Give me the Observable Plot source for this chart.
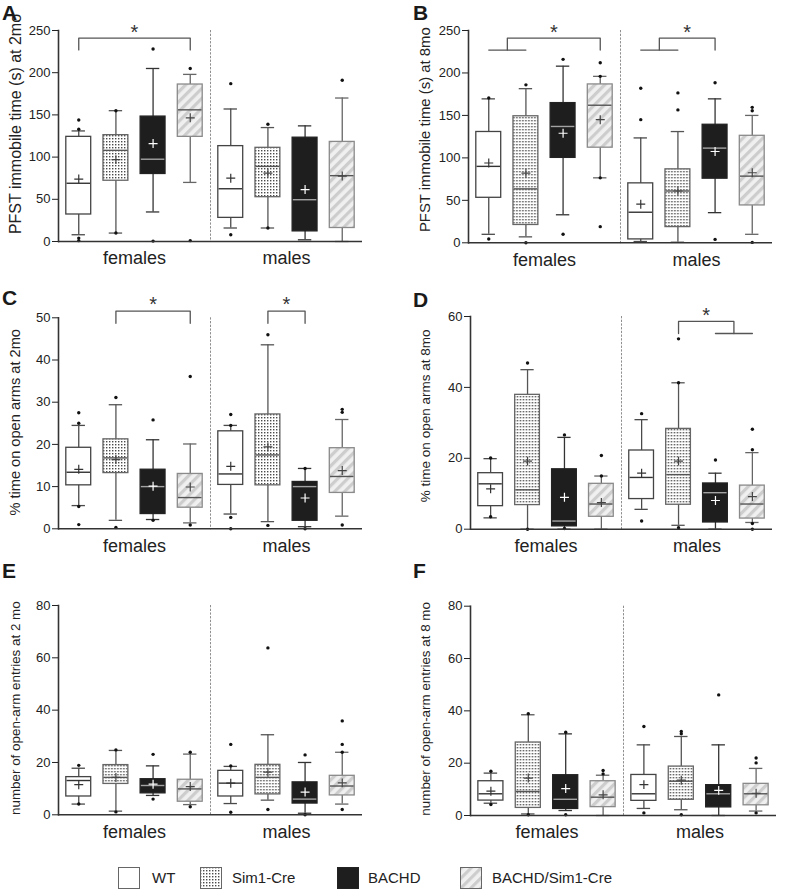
<!DOCTYPE html>
<html>
<head>
<meta charset="utf-8">
<script src="https://cdn.jsdelivr.net/npm/d3@7"></script>
<script src="https://cdn.jsdelivr.net/npm/@observablehq/plot@0.6"></script>
<style>
  html, body { margin: 0; padding: 0; background: #fff; }
  #root { position: relative; width: 787px; height: 890px; overflow: hidden; font-family: "Liberation Sans", Arial, sans-serif; color: #222; }
  .panel { position: absolute; }
  .letter { position: absolute; font-weight: bold; font-size: 21px; line-height: 21px; color: #1a1a1a; }
  .leg-sw { position: absolute; top: 867px; width: 22px; height: 22px; }
  .leg-tx { position: absolute; top: 869px; font-size: 15px; line-height: 18px; color: #222; white-space: nowrap; }
</style>
</head>
<body>
<svg width="0" height="0" style="position:absolute">
  <defs>
    <pattern id="stipple" width="3" height="3" patternUnits="userSpaceOnUse">
      <rect width="3" height="3" fill="#ffffff"/>
      <rect x="0" y="0" width="1.4" height="1.4" fill="#4a4a4a"/>
    </pattern>
    <pattern id="hatch" width="7" height="7" patternUnits="userSpaceOnUse" patternTransform="rotate(45)">
      <rect width="7" height="7" fill="#f0f0f0"/>
      <rect width="3.2" height="7" fill="#cdcdcd"/>
    </pattern>
  </defs>
</svg>
<div id="root"></div>
<script>
// ---------- categories ----------
const genotypes = ["WT", "Sim1-Cre", "BACHD", "BACHD/Sim1-Cre"];
const sexes = ["females", "males"];
// order of every series: females WT, Sim1-Cre, BACHD, BACHD/Sim1-Cre, males WT, Sim1-Cre, BACHD, BACHD/Sim1-Cre

// ---------- A: PFST immobile time at 2mo ----------
const aLabel = "PFST immobile time (s) at 2mo";
const aTicks = [0, 50, 100, 150, 200, 250];
const aLow  = [8, 10, 35, 70, 16, 16, 2, 0];
const aQ1   = [32, 72, 80, 124, 28, 52.5, 12, 16];
const aMed  = [69, 108, 97.5, 156, 62.5, 89, 49.5, 78];
const aQ3   = [124, 126, 148, 186, 113, 111, 123, 118];
const aHigh = [131, 155, 205, 198, 157, 135, 137, 170];
const aMean = [74, 97, 116, 146.5, 75, 81, 61.5, 77.5];
const aOut  = [[144, 133, 4, 1], [155, 10], [228, 0.5], [205, 1], [187, 8], [139, 16], [], [191]];
const aSig  = [{sex: "females", from: ["WT"], to: ["BACHD/Sim1-Cre"]}];
const aSigLevels = [227, 241];

// ---------- B: PFST immobile time at 8mo ----------
const bLabel = "PFST immobile time (s) at 8mo";
const bTicks = [0, 50, 100, 150, 200, 250];
const bLow  = [10, 7, 33, 76.5, 1.5, 0.7, 35.5, 10];
const bQ1   = [53, 21, 100, 112, 4, 18.5, 75.5, 44];
const bMed  = [90, 63.5, 137, 162, 36, 61, 111.5, 78.5];
const bQ3   = [130.5, 149, 164.5, 186.5, 70, 86.5, 139, 126];
const bHigh = [169.5, 181.5, 208, 196, 123.5, 131, 169.5, 150];
const bMean = [94, 82, 129, 145, 45.5, 61, 107.5, 82.5];
const bOut  = [[170.5, 4.5], [186, 0], [216, 10], [212, 196, 76.5, 19], [182, 145], [176.5, 156.5], [188.5, 4], [159.5, 155.5, 0.5]];
const bSig  = [
  {sex: "females", from: ["WT", "Sim1-Cre"], to: ["BACHD/Sim1-Cre"]},
  {sex: "males", from: ["WT", "Sim1-Cre"], to: ["BACHD"]}
];
const bSigLevels = [227, 241];

// ---------- C: % time on open arms at 2mo ----------
const cLabel = "% time on open arms at 2mo";
const cTicks = [0, 10, 20, 30, 40, 50];
const cLow  = [5.5, 2, 2.2, 1.4, 3.5, 1.7, 0.5, 3];
const cQ1   = [10.3, 13.2, 3.5, 5, 10.4, 10.3, 1.9, 8.5];
const cMed  = [13.4, 16.8, 10, 7.4, 13, 17.5, 10, 12.4];
const cQ3   = [19.2, 21.2, 14, 13, 23.1, 27.1, 11.1, 19.1];
const cHigh = [24.5, 29.4, 21.1, 20.1, 24.5, 43.6, 14.3, 25.9];
const cMean = [14.1, 16.4, 10.1, 9.9, 14.8, 19.4, 7.3, 13.8];
const cOut  = [[27.5, 25, 5.3, 1], [31.1, 0.3], [25.8, 2], [36.1, 0.9], [27.1, 24.5, 2.7, 0], [46, 0.8], [14.3, 0], [28.3, 27.6, 0.9]];
const cSig  = [
  {sex: "females", from: ["Sim1-Cre"], to: ["BACHD/Sim1-Cre"]},
  {sex: "males", from: ["Sim1-Cre"], to: ["BACHD"]}
];
const cSigLevels = [48.7, 51.6];

// ---------- D: % time on open arms at 8mo ----------
const dLabel = "% time on open arms at 8mo";
const dTicks = [0, 20, 40, 60];
const dLow  = [3.2, 0, 0, 0, 5.6, 1.1, 0, 1.9];
const dQ1   = [6.5, 6.8, 0.8, 3.5, 8.5, 6.9, 1.9, 3];
const dMed  = [12.8, 11.1, 2.3, 7.1, 14.6, 15.4, 10.3, 7.1];
const dQ3   = [15.8, 37.9, 16.9, 12.8, 22.2, 28.3, 12.9, 12.3];
const dHigh = [19.9, 45, 25.9, 15, 30.9, 41.3, 15.8, 21.6];
const dMean = [11.4, 19.2, 9, 7.5, 15.8, 19.2, 8.1, 9.2];
const dOut  = [[20.1, 3.5], [46.9, 0], [26.6, 0.2], [20.8, 15], [32.6, 2.3], [53.7, 41.3, 0.4], [19.5], [28.2, 22.4, 1.6, 0]];
const dSig  = [{sex: "males", from: ["Sim1-Cre"], to: ["BACHD", "BACHD/Sim1-Cre"]}];
const dSigLevels = [55.2, 58.6];

// ---------- E: open-arm entries at 2 mo ----------
const eLabel = "number of open-arm entries at 2 mo";
const eTicks = [0, 20, 40, 60, 80];
const eLow  = [4.1, 1.4, 7.4, 3.9, 4.3, 5.6, 0.6, 4.1];
const eQ1   = [7, 11.8, 8.2, 5, 7, 7.8, 4.3, 7.4];
const eMed  = [13.1, 14.3, 11.2, 9.9, 12.1, 14.3, 6, 11];
const eQ3   = [14.4, 19, 13.6, 13.4, 16.8, 19.1, 12.4, 14.9];
const eHigh = [17.8, 24.6, 18.7, 23.2, 18.5, 30.6, 20, 23.9];
const eMean = [11.5, 14.3, 11.7, 10.8, 12.1, 16.3, 8.7, 12.2];
const eOut  = [[18.9, 4.1], [24.8, 1.1], [23.1, 6], [23.9, 3.1], [26.9, 18.7, 1], [63.8, 2], [22.9, 0], [35.9, 26.9, 23.9, 2]];
const eSig  = [];
const eSigLevels = [0, 0];

// ---------- F: open-arm entries at 8 mo ----------
const fLabel = "number of open-arm entries at 8 mo";
const fTicks = [0, 20, 40, 60, 80];
const fLow  = [4.7, 0.6, 1.9, 0, 2.7, 2.2, 0, 1.7];
const fQ1   = [5.7, 2.9, 2.5, 3.2, 5.6, 6, 3.1, 3.9];
const fMed  = [8.3, 9.2, 6.2, 7, 8.3, 13.1, 8.3, 8.3];
const fQ3   = [13.1, 27.9, 15.4, 13.1, 15.5, 18.7, 11.6, 12.1];
const fHigh = [16.2, 38.5, 31.2, 15.4, 27, 30.2, 27, 18];
const fMean = [9.3, 14.3, 10.3, 7.9, 11.8, 13.5, 9.6, 8.5];
const fOut  = [[16.9, 4.2], [38.9, 0.3], [31.8, 0.3], [17.2, 15.9], [34, 1], [32.1, 31.2, 0.3], [46.1], [22, 20.1, 1]];
const fSig  = [];
const fSigLevels = [0, 0];

// ---------- styles ----------
const boxFill       = ["#ffffff", "url(#stipple)", "#1e1e1e", "url(#hatch)"];
const boxStroke     = ["#444444", "#666666", "#222222", "#8a8a8a"];
const medianStroke  = ["#333333", "#555555", "#a3a3a3", "#555555"];
const meanStroke    = ["#333333", "#444444", "#ffffff", "#444444"];
const whiskerStroke = ["#4a4a4a", "#555555", "#333333", "#666666"];
const boxHalf = 0.335;   // half box width in genotype-slot units
const capHalf = 0.18;
const tickFont = '"Liberation Sans Narrow", "Liberation Sans", Arial, sans-serif';
const textFont = '"Liberation Sans", Arial, sans-serif';

function boxRows(lo, q1, med, q3, hi, mean) {
  return lo.map((_, k) => ({
    sex: sexes[Math.floor(k / 4)], g: k % 4, genotype: genotypes[k % 4],
    lo: lo[k], q1: q1[k], med: med[k], q3: q3[k], hi: hi[k], mean: mean[k]
  }));
}
function outlierRows(out) {
  return out.flatMap((vals, k) => vals.map(v => ({sex: sexes[Math.floor(k / 4)], g: k % 4, v})));
}
function bracketParts(sig, levels) {
  const [low, high] = levels;
  const pts = [], stars = [];
  sig.forEach((s, n) => {
    const fi = s.from.map(d => genotypes.indexOf(d));
    const ti = s.to.map(d => genotypes.indexOf(d));
    const fx = d3.mean(fi), tx = d3.mean(ti);
    const id = "b" + n;
    [[fx, low], [fx, high], [tx, high], [tx, low]].forEach(([x, y]) => pts.push({id, sex: s.sex, x, y}));
    if (fi.length > 1) [[d3.min(fi), low], [d3.max(fi), low]].forEach(([x, y]) => pts.push({id: id + "f", sex: s.sex, x, y}));
    if (ti.length > 1) [[d3.min(ti), low], [d3.max(ti), low]].forEach(([x, y]) => pts.push({id: id + "t", sex: s.sex, x, y}));
    stars.push({sex: s.sex, x: (fx + tx) / 2, y: high});
  });
  return {pts, stars};
}

function panel(cfg) {
  const rows = boxRows(cfg.low, cfg.q1, cfg.med, cfg.q3, cfg.high, cfg.mean);
  const outs = outlierRows(cfg.out);
  const br = bracketParts(cfg.sig, cfg.sigLevels);
  const ymax = cfg.ticks[cfg.ticks.length - 1];
  return Plot.plot({
    width: cfg.w, height: 285,
    marginLeft: cfg.mL, marginRight: cfg.mR, marginTop: cfg.mT, marginBottom: cfg.mB,
    style: {fontFamily: tickFont, fontSize: "13px", color: "#222", background: "transparent", overflow: "visible"},
    fx: {domain: sexes, padding: 0, axis: null},
    x: {type: "linear", domain: [-0.545, 3.545], axis: null},
    y: {domain: [0, ymax], axis: null},
    color: {type: "identity"},
    marks: [
      Plot.frame({anchor: "left", facetAnchor: "right", stroke: "#8f8f8f", strokeDasharray: "1.3,2.4", strokeWidth: 1}),
      Plot.ruleX(rows, {fx: "sex", x: "g", y1: "lo", y2: "hi", stroke: d => whiskerStroke[d.g], strokeWidth: 1.3}),
      Plot.ruleY(rows, {fx: "sex", y: "hi", x1: d => d.g - capHalf, x2: d => d.g + capHalf, stroke: d => whiskerStroke[d.g], strokeWidth: 1.3}),
      Plot.ruleY(rows, {fx: "sex", y: "lo", x1: d => d.g - capHalf, x2: d => d.g + capHalf, stroke: d => whiskerStroke[d.g], strokeWidth: 1.3}),
      Plot.rect(rows, {fx: "sex", x1: d => d.g - boxHalf, x2: d => d.g + boxHalf, y1: "q1", y2: "q3",
        fill: d => boxFill[d.g], stroke: d => boxStroke[d.g], strokeWidth: 1.3}),
      Plot.ruleY(rows, {fx: "sex", y: "med", x1: d => d.g - boxHalf, x2: d => d.g + boxHalf, stroke: d => medianStroke[d.g], strokeWidth: 1.4, insetLeft: 0.7, insetRight: 0.7}),
      Plot.dot(rows, {fx: "sex", x: "g", y: "mean", symbol: "plus", r: 3, stroke: d => meanStroke[d.g], strokeWidth: 1.2}),
      Plot.dot(outs, {fx: "sex", x: "g", y: "v", r: 1.7, fill: "#111", stroke: null}),
      Plot.line(br.pts, {fx: "sex", x: "x", y: "y", z: "id", stroke: "#555", strokeWidth: 1.3, curve: "linear"}),
      Plot.text(br.stars, {fx: "sex", x: "x", y: "y", text: () => "*", fontSize: 20, fontFamily: textFont, fill: "#333", dy: -6}),
      Plot.ruleY([0], {stroke: "#333", strokeWidth: 1.6}),
      Plot.frame({anchor: "left", facetAnchor: "left", stroke: "#333", strokeWidth: 1.6}),
      Plot.axisY({ticks: cfg.ticks, tickSize: 6, tickPadding: 2, tickFormat: d => String(d), label: null, fontSize: 13, fontFamily: tickFont}),
      Plot.axisFx({anchor: "bottom", tickSize: 0, tickPadding: 10, label: null, fontSize: 18, fontFamily: textFont}),
      Plot.text([cfg.label], {frameAnchor: "left", rotate: -90, dx: cfg.ldx, dy: cfg.ldy, textAnchor: "middle", lineAnchor: "top",
        fontSize: cfg.lfs, fontFamily: textFont, fill: "#222", facetAnchor: "left"})
    ]
  });
}

const panels = [
  {id: "A", left: 0,   top: 0,   w: 390, mL: 57,   mR: 28, mT: 30,   mB: 44,   label: aLabel, ticks: aTicks, low: aLow, q1: aQ1, med: aMed, q3: aQ3, high: aHigh, mean: aMean, out: aOut, sig: aSig, sigLevels: aSigLevels, ldx: -48.7, ldy: -12, lfs: 16,   lx: 2,   ly: 2},
  {id: "B", left: 390, top: 0,   w: 397, mL: 77.7, mR: 14, mT: 30,   mB: 42.7, label: bLabel, ticks: bTicks, low: bLow, q1: bQ1, med: bMed, q3: bQ3, high: bHigh, mean: bMean, out: bOut, sig: bSig, sigLevels: bSigLevels, ldx: -49.4, ldy: -7,  lfs: 14.9, lx: 413, ly: 2},
  {id: "C", left: 0,   top: 285, w: 390, mL: 57,   mR: 28, mT: 32.3, mB: 41.7, label: cLabel, ticks: cTicks, low: cLow, q1: cQ1, med: cMed, q3: cQ3, high: cHigh, mean: cMean, out: cOut, sig: cSig, sigLevels: cSigLevels, ldx: -48.7, ldy: -1,  lfs: 14.6, lx: 2,   ly: 287},
  {id: "D", left: 390, top: 285, w: 397, mL: 79.3, mR: 14, mT: 31,   mB: 41.3, label: dLabel, ticks: dTicks, low: dLow, q1: dQ1, med: dMed, q3: dQ3, high: dHigh, mean: dMean, out: dOut, sig: dSig, sigLevels: dSigLevels, ldx: -50,   ldy: -7,  lfs: 13.5, lx: 413, ly: 289},
  {id: "E", left: 0,   top: 570, w: 390, mL: 57.7, mR: 28, mT: 35,   mB: 40.7, label: eLabel, ticks: eTicks, low: eLow, q1: eQ1, med: eMed, q3: eQ3, high: eHigh, mean: eMean, out: eOut, sig: eSig, sigLevels: eSigLevels, ldx: -47.7, ldy: -2,  lfs: 13.4, lx: 2,   ly: 560},
  {id: "F", left: 390, top: 570, w: 397, mL: 79.3, mR: 11, mT: 35.7, mB: 40,   label: fLabel, ticks: fTicks, low: fLow, q1: fQ1, med: fMed, q3: fQ3, high: fHigh, mean: fMean, out: fOut, sig: fSig, sigLevels: fSigLevels, ldx: -50,   ldy: -2,  lfs: 13.4, lx: 413, ly: 560}
];

const root = document.getElementById("root");
for (const cfg of panels) {
  const div = document.createElement("div");
  div.className = "panel";
  div.style.left = cfg.left + "px";
  div.style.top = cfg.top + "px";
  div.appendChild(panel(cfg));
  root.appendChild(div);
  const letter = document.createElement("div");
  letter.className = "letter";
  letter.style.left = cfg.lx + "px";
  letter.style.top = cfg.ly + "px";
  letter.textContent = cfg.id;
  root.appendChild(letter);
}

// ---------- legend ----------
const legendSwatchX = [118, 200, 337, 460];
const legendTextX = [152, 232, 368, 492];
genotypes.forEach((g, k) => {
  const sw = document.createElementNS("http://www.w3.org/2000/svg", "svg");
  sw.setAttribute("class", "leg-sw");
  sw.setAttribute("width", 22); sw.setAttribute("height", 22);
  sw.style.left = legendSwatchX[k] + "px";
  const r = document.createElementNS("http://www.w3.org/2000/svg", "rect");
  r.setAttribute("x", 0.5); r.setAttribute("y", 0.5); r.setAttribute("width", 21); r.setAttribute("height", 21);
  r.setAttribute("fill", boxFill[k]); r.setAttribute("stroke", k === 2 ? "#222" : "#666"); r.setAttribute("stroke-width", 1);
  sw.appendChild(r);
  root.appendChild(sw);
  const tx = document.createElement("div");
  tx.className = "leg-tx";
  tx.style.left = legendTextX[k] + "px";
  tx.textContent = g;
  root.appendChild(tx);
});
</script>
</body>
</html>
